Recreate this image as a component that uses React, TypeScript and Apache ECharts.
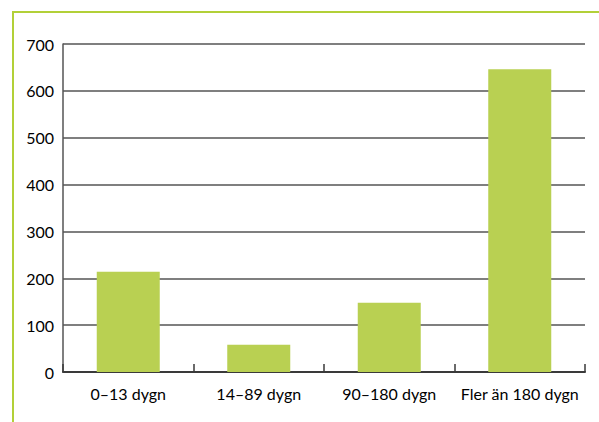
import React, { useEffect, useRef } from "react";
import * as echarts from "echarts";

const categories = ["0–13 dygn", "14–89 dygn", "90–180 dygn", "Fler än 180 dygn"];
const values = [214, 58, 148, 646];
const yTicks = [0, 100, 200, 300, 400, 500, 600, 700];

export default function App() {
  const ref = useRef<HTMLDivElement>(null);
  useEffect(() => {
    if (!ref.current) return;
    const chart = echarts.init(ref.current, null, { renderer: "svg" });
    const axisColor = "#555555";
    const font = "Lato, 'Noto Sans', sans-serif";
    chart.setOption({
      animation: false,
      backgroundColor: "#ffffff",
      grid: { left: 63, right: 14, top: 44, bottom: 50 },
      xAxis: {
        type: "category",
        data: categories,
        boundaryGap: true,
        axisLine: { show: true, lineStyle: { color: "#3a3a3a", width: 2 } },
        axisTick: { show: true, inside: true, length: 8, lineStyle: { color: "#3a3a3a", width: 1.5 } },
        axisLabel: { color: "#000", fontSize: 16, fontFamily: font, margin: 13, interval: 0 },
      },
      yAxis: {
        type: "value",
        min: yTicks[0],
        max: yTicks[yTicks.length - 1],
        interval: 100,
        axisLine: { show: true, lineStyle: { color: "#555", width: 1.5 } },
        axisTick: { show: false },
        splitLine: { show: true, lineStyle: { color: axisColor, width: 1.5 } },
        axisLabel: {
          color: "#000",
          fontSize: 16,
          fontFamily: font,
          margin: 9,
          padding: [7, 0, 0, 0],
        },
      },
      series: [
        {
          type: "bar",
          data: values,
          barWidth: 63,
          itemStyle: { color: "#b9d052" },
        },
      ],
      graphic: [
        {
          type: "line",
          shape: { x1: 13, y1: 11, x2: 13, y2: 422 },
          style: { stroke: "#b2d038", lineWidth: 2 },
        },
        {
          type: "line",
          shape: { x1: 12, y1: 12, x2: 599, y2: 12 },
          style: { stroke: "#b2d038", lineWidth: 2 },
        },
      ],
    });
    return () => chart.dispose();
  }, []);
  return (
    <div
      ref={ref}
      style={{ position: "fixed", left: 0, top: 0, width: 599, height: 422 }}
    />
  );
}
